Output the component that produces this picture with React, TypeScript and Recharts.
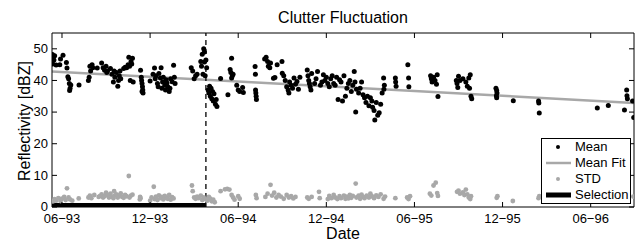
import { ComposedChart, Scatter, XAxis, YAxis, ReferenceLine, Legend } from 'recharts';

// x = months after June 1993
const tickMonths = [0, 6, 12, 18, 24, 30, 36];
const tickLabels = ['06−93', '12−93', '06−94', '12−94', '06−95', '12−95', '06−96'];
const yTicks = [0, 10, 20, 30, 40, 50];
const xDomain = [-0.68, 38.95];

const meanPoints = [
  [-0.65, 48.2], [-0.6, 47.3], [-0.55, 46.5], [-0.62, 45.2], [-0.5, 47.8], [-0.4, 44.9], [-0.15, 45.0], [-0.1, 46.8],
  [0.07, 48.0], [0.3, 45.7], [0.34, 43.9], [0.4, 41.2], [0.45, 40.5], [0.5, 39.0], [0.55, 37.5], [0.6, 38.6], [0.52, 36.8],
  [1.16, 38.6],
  [1.8, 40.0], [1.85, 41.0], [1.9, 44.5], [1.95, 43.0], [2.05, 45.0], [2.1, 44.0], [2.4, 43.9],
  [2.7, 45.5], [2.8, 44.0], [2.9, 43.2], [3.0, 44.5], [3.05, 42.5], [3.1, 43.0],
  [3.3, 43.8], [3.4, 42.0], [3.5, 39.5], [3.55, 43.0], [3.6, 41.0], [3.7, 42.5], [3.8, 38.2], [3.85, 40.0], [3.9, 41.5], [3.95, 43.0], [4.0, 40.5],
  [4.2, 43.8], [4.3, 44.2], [4.4, 44.0], [4.5, 45.0], [4.55, 47.3], [4.6, 44.5], [4.65, 40.0], [4.7, 46.0], [4.75, 45.2], [4.8, 47.0], [4.85, 39.5],
  [5.35, 43.2], [5.4, 41.0], [5.42, 40.0], [5.45, 39.0], [5.48, 38.0], [5.5, 37.0], [5.52, 36.0], [5.45, 36.5],
  [6.0, 39.8], [6.2, 42.0], [6.3, 43.9], [6.35, 40.5], [6.4, 41.5], [6.5, 39.0], [6.55, 38.0], [6.6, 42.2], [6.7, 40.8],
  [6.75, 44.0], [6.8, 37.5], [6.85, 39.5], [6.9, 41.0], [7.0, 38.5], [7.05, 37.0], [7.1, 40.2], [7.15, 39.2], [7.2, 38.0],
  [7.3, 36.5], [7.35, 37.5], [7.4, 40.5], [7.5, 39.6], [7.6, 44.8], [7.65, 41.0], [7.7, 39.0],
  [8.8, 44.0], [8.9, 43.0], [9.0, 40.5], [9.1, 41.5], [9.2, 42.0],
  [9.45, 46.0], [9.5, 44.5], [9.55, 48.3], [9.6, 42.0], [9.65, 50.0], [9.7, 45.8], [9.75, 41.5], [9.8, 46.5], [9.7, 49.0], [9.85, 44.0],
  [9.95, 37.0], [10.0, 36.0], [10.05, 38.2], [10.1, 35.0], [10.2, 34.2], [10.25, 36.5], [10.3, 33.5], [10.35, 35.8],
  [10.45, 32.5], [10.55, 31.8], [10.5, 34.0], [10.15, 37.5],
  [10.8, 40.6], [11.3, 35.5],
  [11.45, 43.5], [11.5, 42.5], [11.55, 47.0], [11.6, 41.5], [11.65, 42.0], [11.55, 40.8],
  [11.9, 38.5], [12.0, 37.0], [12.1, 36.5], [12.3, 37.8], [12.35, 36.2],
  [13.15, 44.4], [13.17, 42.0], [13.18, 37.0], [13.2, 36.0], [13.22, 35.0], [13.24, 34.0],
  [13.8, 46.8], [13.9, 47.3], [14.0, 46.0], [14.05, 44.5], [14.15, 44.0], [14.2, 45.5],
  [14.4, 40.7], [14.5, 40.9], [14.65, 45.0], [14.98, 46.0],
  [15.0, 42.3], [15.1, 41.5], [15.2, 40.0], [15.3, 38.0], [15.4, 37.0], [15.45, 36.0], [15.5, 39.5], [15.6, 38.5],
  [15.7, 37.5], [15.8, 40.8], [15.9, 38.8], [16.0, 39.7], [16.1, 37.2], [16.2, 41.0],
  [16.7, 43.3], [16.75, 41.5], [16.8, 40.0], [16.85, 39.0], [16.9, 38.0], [16.95, 37.0], [17.0, 42.2], [17.2, 39.0], [17.3, 40.5], [17.4, 42.8],
  [17.6, 38.5], [17.7, 39.5], [17.8, 41.8], [17.9, 40.0], [18.0, 41.0], [18.1, 39.0], [18.3, 40.5],
  [18.2, 38.0], [18.4, 41.5], [18.5, 39.0], [18.6, 38.5], [18.7, 41.0], [18.8, 34.0], [18.9, 40.2], [19.0, 39.5],
  [19.1, 33.5], [19.2, 41.5], [19.3, 35.0], [19.4, 37.5], [19.5, 39.0], [19.6, 40.0], [19.7, 36.5], [19.8, 38.5],
  [19.9, 42.8], [19.95, 39.5], [20.0, 30.0], [20.05, 37.2],
  [20.2, 36.0], [20.3, 37.5], [20.4, 39.5], [20.5, 35.5], [20.6, 34.5], [20.7, 33.0], [20.8, 35.0], [20.9, 32.0],
  [21.0, 34.5], [21.1, 33.5], [21.15, 31.5], [21.25, 30.5], [21.3, 27.5], [21.4, 33.0], [21.5, 29.0], [21.6, 29.8],
  [21.7, 32.5], [21.8, 36.0],
  [21.9, 40.8], [21.95, 38.5], [21.92, 37.2],
  [22.7, 40.8], [22.72, 39.5], [22.75, 38.2],
  [23.55, 45.0], [23.6, 40.8], [23.62, 38.0],
  [25.1, 41.5], [25.15, 40.5], [25.2, 39.5], [25.3, 41.0], [25.4, 40.0], [25.5, 38.8], [25.55, 41.8], [25.6, 34.9],
  [26.85, 40.0], [26.9, 39.0], [26.95, 37.8], [27.0, 41.3], [27.1, 40.0], [27.3, 40.5], [27.5, 39.5], [27.6, 38.2],
  [27.7, 40.8], [27.75, 37.5], [27.8, 41.8], [27.85, 35.0], [27.9, 34.2],
  [29.55, 37.5], [29.6, 36.8], [29.62, 36.0], [29.58, 35.2], [29.6, 34.5],
  [30.73, 33.6],
  [32.45, 33.5], [32.47, 32.9], [32.5, 29.7],
  [36.45, 31.3], [37.2, 32.1], [38.3, 30.7],
  [38.45, 37.0], [38.47, 35.2], [38.5, 34.2], [38.85, 33.5], [38.93, 28.3],
];

const stdPoints = [
  [-0.6, 1.8], [-0.5, 2.5], [-0.4, 2.0], [-0.25, 2.8], [-0.1, 1.9], [0.0, 2.6], [0.15, 3.2], [0.25, 2.2], [0.34, 5.9],
  [0.45, 3.0], [0.55, 2.4], [0.7, 2.0], [1.14, 2.7], [1.8, 3.0], [1.9, 3.6], [2.0, 2.8], [2.2, 3.8], [2.5, 3.2],
  [2.6, 3.5], [2.7, 4.0], [2.8, 3.0], [2.9, 3.4], [3.0, 4.5], [3.1, 3.8], [3.2, 3.0], [3.3, 4.2], [3.4, 3.3], [3.5, 2.8],
  [3.55, 5.0], [3.6, 3.6], [3.7, 4.0], [3.8, 3.0], [3.9, 3.7], [4.0, 4.3], [4.1, 3.2], [4.2, 2.9], [4.3, 3.8], [4.4, 3.4],
  [4.55, 9.8], [4.6, 3.0], [4.7, 3.6], [4.8, 3.9], [5.3, 2.4], [5.32, 3.2], [5.35, 2.8], [6.0, 2.0], [6.1, 3.0], [6.25, 6.4],
  [6.3, 2.5], [6.4, 3.3], [6.5, 2.2], [6.6, 3.7], [6.7, 2.8], [6.8, 3.2], [6.9, 2.4], [7.0, 3.5], [7.1, 2.9], [7.2, 2.6],
  [7.3, 3.8], [7.4, 2.3], [7.5, 3.1], [7.6, 2.7], [8.85, 6.8], [8.9, 5.0], [9.0, 3.0], [9.1, 2.6], [9.2, 3.3], [9.3, 2.8],
  [9.45, 3.6], [9.55, 2.2], [9.65, 3.0], [9.75, 2.5], [9.9, 2.0], [10.0, 3.2], [10.1, 2.6], [10.2, 1.8], [10.3, 2.3], [10.4, 1.5],
  [10.8, 5.0], [11.1, 5.6], [11.25, 5.7], [11.4, 5.5], [11.55, 3.8], [11.65, 3.0], [11.75, 2.3], [12.0, 3.4], [12.1, 2.6],
  [13.2, 3.8], [13.25, 2.8], [13.85, 3.2], [14.0, 4.2], [14.2, 7.0], [14.3, 3.6], [14.45, 4.5], [14.6, 3.0], [14.75, 3.8],
  [14.9, 3.3], [15.1, 2.6], [15.3, 3.8], [15.45, 3.0], [15.6, 3.4], [15.75, 2.7], [15.9, 3.2], [16.7, 3.0], [16.8, 2.6],
  [17.0, 3.2], [17.5, 4.8], [17.55, 2.8], [18.1, 2.5], [18.2, 3.5], [18.35, 2.8], [18.5, 3.8], [18.6, 3.0], [18.75, 2.5],
  [18.9, 3.4], [19.0, 2.8], [19.2, 3.6], [19.3, 2.6], [19.4, 3.3], [19.5, 2.7], [19.6, 3.8], [19.7, 2.9], [19.8, 3.5],
  [20.0, 7.4], [20.05, 3.0], [20.2, 3.6], [20.3, 2.6], [20.4, 3.9], [20.5, 3.2], [20.6, 2.8], [20.75, 3.6], [20.9, 3.0],
  [21.0, 4.2], [21.1, 3.4], [21.25, 2.8], [21.4, 3.7], [21.55, 3.2], [21.7, 4.0], [21.9, 2.6], [22.0, 3.3], [22.7, 2.8],
  [23.5, 3.0], [23.6, 2.5], [23.7, 3.4], [25.05, 4.2], [25.15, 3.6], [25.3, 6.8], [25.45, 7.7], [25.55, 4.4], [25.6, 3.5],
  [26.9, 4.8], [27.0, 5.2], [27.1, 4.2], [27.3, 4.6], [27.4, 3.8], [27.5, 5.5], [27.6, 4.0], [27.7, 3.0], [27.8, 2.5],
  [27.85, 3.4], [29.6, 2.9], [29.65, 3.4], [30.7, 1.9], [32.45, 2.8], [32.5, 3.4], [36.4, 3.0], [37.3, 2.7], [38.3, 3.2], [38.9, 3.3],
];

const meanFit = [[-0.68, 42.8], [38.95, 32.9]];
const selectionRange = [-0.68, 9.8];

const meanData = meanPoints.map(([x, y]) => ({ x, y }));
const stdData = stdPoints.map(([x, y]) => ({ x, y }));

const FONT = 'Liberation Sans, Arial, Helvetica, sans-serif';

const BottomTick = ({ x, y, payload }: any) => (
  <g>
    <line x1={x} y1={y} x2={x} y2={y - 5} stroke="#000" />
    <text x={x} y={y + 16} textAnchor="middle" fontSize={13} fill="#000" fontFamily={FONT}>
      {tickLabels[tickMonths.indexOf(payload.value)]}
    </text>
  </g>
);
const TopTick = ({ x, y }: any) => <line x1={x} y1={y} x2={x} y2={y + 5} stroke="#000" />;
const LeftTick = ({ x, y, payload }: any) => (
  <g>
    <line x1={x} y1={y} x2={x + 5} y2={y} stroke="#000" />
    <text x={x - 4} y={y + 4.2} textAnchor="end" fontSize={13} fill="#000" fontFamily={FONT}>
      {payload.value}
    </text>
  </g>
);
const RightTick = ({ x, y }: any) => <line x1={x} y1={y} x2={x - 5} y2={y} stroke="#000" />;

const Dot = (color: string, r: number) => (p: any) => <circle cx={p.cx} cy={p.cy} r={r} fill={color} />;

const legendItems = [
  { name: 'Mean', kind: 'dot', color: '#000' },
  { name: 'Mean Fit', kind: 'line', color: '#a8a8a8', width: 2.5 },
  { name: 'STD', kind: 'dot', color: '#a8a8a8' },
  { name: 'Selection', kind: 'line', color: '#000', width: 5 },
];

const LegendBox = () => (
  <div
    style={{
      width: 90, height: 66, boxSizing: 'border-box', border: '1px solid #000', background: '#fff',
      fontFamily: FONT, fontSize: 13, color: '#000',
    }}
  >
    {legendItems.map((it) => (
      <div key={it.name} style={{ height: 16, display: 'flex', alignItems: 'center' }}>
        <svg width={32} height={16} style={{ display: 'block' }}>
          {it.kind === 'dot' ? (
            <circle cx={16} cy={8} r={2} fill={it.color} />
          ) : (
            <line x1={4} y1={8} x2={29} y2={8} stroke={it.color} strokeWidth={it.width} />
          )}
        </svg>
        <span style={{ marginLeft: 1, lineHeight: '16px' }}>{it.name}</span>
      </div>
    ))}
  </div>
);

export default function App() {
  return (
    <div style={{ position: 'absolute', left: 0, top: 0, width: 638, height: 242, background: '#fff' }}>
      <ComposedChart width={638} height={242} margin={{ top: 32, right: 3, bottom: 0, left: 12 }}>
        <XAxis
          type="number"
          dataKey="x"
          domain={xDomain}
          allowDataOverflow
          ticks={tickMonths}
          height={35}
          tickSize={0}
          tickMargin={0}
          tickLine={false}
          axisLine={{ stroke: '#000' }}
          tick={<BottomTick />}
          interval={0}
          label={{
            content: () => (
              <text x={343} y={239} textAnchor="middle" fontSize={16} fill="#000" fontFamily={FONT}>Date</text>
            ),
          }}
        />
        <XAxis
          xAxisId="top"
          orientation="top"
          type="number"
          dataKey="x"
          domain={xDomain}
          allowDataOverflow
          ticks={tickMonths}
          height={1}
          tickSize={0}
          tickMargin={0}
          tickLine={false}
          axisLine={{ stroke: '#000' }}
          tick={<TopTick />}
          interval={0}
          label={{
            content: () => (
              <text x={343} y={22.5} textAnchor="middle" fontSize={16} fill="#000" fontFamily={FONT}>Clutter Fluctuation</text>
            ),
          }}
        />
        <YAxis
          type="number"
          dataKey="y"
          domain={[0, 55]}
          allowDataOverflow
          ticks={yTicks}
          width={40}
          tickSize={0}
          tickMargin={0}
          tickLine={false}
          axisLine={{ stroke: '#000' }}
          tick={<LeftTick />}
          interval={0}
          label={{
            content: () => (
              <text x={30} y={121} transform="rotate(-90 30 121)" textAnchor="middle" fontSize={16} fill="#000" fontFamily={FONT}>
                Reflectivity [dBZ]
              </text>
            ),
          }}
        />
        <YAxis
          yAxisId="right"
          orientation="right"
          type="number"
          dataKey="y"
          domain={[0, 55]}
          allowDataOverflow
          ticks={yTicks}
          width={1}
          tickSize={0}
          tickMargin={0}
          tickLine={false}
          axisLine={{ stroke: '#000' }}
          tick={<RightTick />}
          interval={0}
        />
        <Scatter name="STD" data={stdData} dataKey="y" fill="#a8a8a8" shape={Dot('#a8a8a8', 2.4)} isAnimationActive={false} />
        <Scatter name="Mean" data={meanData} dataKey="y" fill="#000" shape={Dot('#000', 2.5)} isAnimationActive={false} />
        <ReferenceLine
          segment={meanFit.map(([x, y]) => ({ x, y }))}
          stroke="#a8a8a8"
          strokeWidth={2.5}
          ifOverflow="hidden"
        />
        <ReferenceLine x={selectionRange[1]} stroke="#000" strokeWidth={1.3} strokeDasharray="5 4" />
        <ReferenceLine
          segment={[{ x: selectionRange[0], y: 0 }, { x: selectionRange[1], y: 0 }]}
          stroke="#000"
          strokeWidth={8}
          ifOverflow="hidden"
        />
        <Legend
          layout="vertical"
          align="center"
          verticalAlign="middle"
          wrapperStyle={{ left: 541, top: 138, width: 90, height: 66 }}
          content={() => <LegendBox />}
        />
      </ComposedChart>
    </div>
  );
}
